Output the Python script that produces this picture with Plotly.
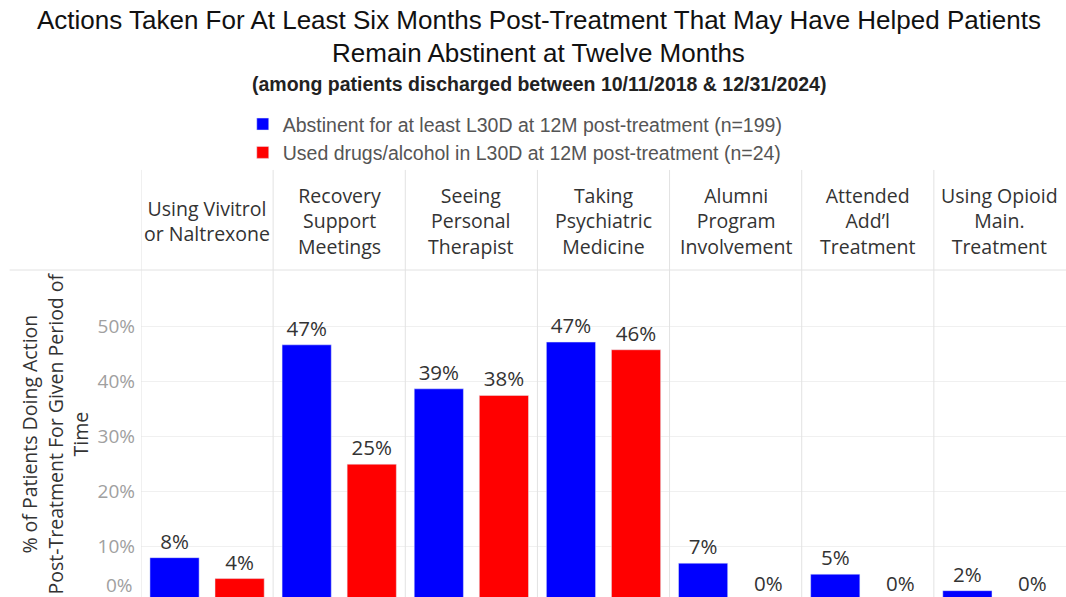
import plotly.graph_objects as go

# categories shown as column headers
actions = ['Using Vivitrol<br>or Naltrexone', 'Recovery<br>Support<br>Meetings',
           'Seeing<br>Personal<br>Therapist', 'Taking<br>Psychiatric<br>Medicine',
           'Alumni<br>Program<br>Involvement', 'Attended<br>Add\u2019l<br>Treatment',
           'Using Opioid<br>Main.<br>Treatment']
keys = ['viv', 'rsm', 'thr', 'psy', 'alm', 'add', 'opi']

abstinent = [8.0, 46.7, 38.7, 47.2, 7.0, 5.0, 2.0]
used = [4.2, 25.0, 37.5, 45.8, 0.0, 0.0, 0.0]

name_abs = 'Abstinent for at least L30D at 12M post-treatment (n=199)'
name_used = 'Used drugs/alcohol in L30D at 12M post-treatment (n=24)'

ytick_vals = [10, 20, 30, 40, 50]
ytick_text = ['10%', '20%', '30%', '40%', '50%']

head = 'Liberation Sans, Arial, sans-serif'
body = 'Open Sans, Lato, sans-serif'


def lbl(vals):
    return ['%.0f%%' % v if v > 0 else '' for v in vals]


fig = go.Figure()
fig.add_trace(go.Bar(x=keys, y=abstinent, name=name_abs, marker_color='#0000FF',
                     text=lbl(abstinent), textposition='outside', cliponaxis=False,
                     textfont=dict(size=20.5, color='#333', family=body)))
fig.add_trace(go.Bar(x=keys, y=used, name=name_used, marker_color='#FF0000',
                     text=lbl(used), textposition='outside', cliponaxis=False,
                     textfont=dict(size=20.5, color='#333', family=body)))

shapes = []
annos = []

# zero-height bars sit below the visible edge, keep their labels in view
for i, v in enumerate(used):
    if v == 0:
        annos.append(dict(x=keys[i], y=0, xref='x', yref='y domain', text='%.0f%%' % v,
                          showarrow=False, xshift=32.5, yanchor='middle', yshift=14,
                          font=dict(size=20.5, color='#333', family=body)))

# header row: category names and separators
for i, lab in enumerate(actions):
    annos.append(dict(x=keys[i], y=1.15, xref='x', yref='paper', text=lab, showarrow=False,
                      xanchor='center', yanchor='middle',
                      font=dict(size=19.5, color='#333', family=body)))
for i in range(len(keys)):
    shapes.append(dict(type='line', xref='x', yref='paper', x0=i - 0.5, x1=i - 0.5,
                       y0=0, y1=1.306, line=dict(color='#e2e2e2', width=1)))
shapes.append(dict(type='line', xref='paper', yref='paper', x0=-0.142, x1=1,
                   y0=1, y1=1, line=dict(color='#e2e2e2', width=1)))

annos.append(dict(x=-0.0065, y=0.036, xref='paper', yref='paper', text='0%', showarrow=False,
                  xanchor='right', yanchor='middle', font=dict(size=19, color='#a0a0a0', family=body)))
annos.append(dict(x=-0.093, y=0.5, xref='paper', yref='paper',
                  text='% of Patients Doing Action<br>Post-Treatment For Given Period of<br>Time',
                  showarrow=False, textangle=-90, xanchor='center', yanchor='middle',
                  font=dict(size=19.5, color='#333', family=body)))

# title lines
annos.append(dict(x=0.43, y=1.7645, xref='paper', yref='paper', showarrow=False,
                  xanchor='center', yanchor='middle',
                  text='Actions Taken For At Least Six Months Post-Treatment That May Have Helped Patients',
                  font=dict(size=26, color='#111', family=head)))
annos.append(dict(x=0.43, y=1.6636, xref='paper', yref='paper', showarrow=False,
                  xanchor='center', yanchor='middle', text='Remain Abstinent at Twelve Months',
                  font=dict(size=26, color='#111', family=head)))
annos.append(dict(x=0.43, y=1.5688, xref='paper', yref='paper', showarrow=False,
                  xanchor='center', yanchor='middle',
                  text='<b>(among patients discharged between 10/11/2018 &amp; 12/31/2024)</b>',
                  font=dict(size=19.5, color='#222', family=head)))

fig.update_layout(
    width=1066, height=597,
    margin=dict(l=141, r=0, t=270, b=0),
    paper_bgcolor='white', plot_bgcolor='white',
    barmode='group', bargap=0.015, bargroupgap=0.244,
    legend=dict(orientation='v', x=0.11, xanchor='left', y=1.505, yanchor='top',
                font=dict(size=19.5, color='#555', family=head), bgcolor='rgba(0,0,0,0)',
                itemwidth=30, tracegroupgap=0),
    xaxis=dict(showticklabels=False, showgrid=False, zeroline=False, range=[-0.5, 6.5]),
    yaxis=dict(range=[0.85, 60.3], tickvals=ytick_vals, ticktext=ytick_text,
               showgrid=True, gridcolor='#f0f0f0', zeroline=False, ticklabelstandoff=5,
               tickfont=dict(size=19, color='#a0a0a0', family=body)),
    shapes=shapes, annotations=annos,
)

fig.write_html('out.html', config={'displayModeBar': False},
               post_script="document.body.style.margin='0';")
